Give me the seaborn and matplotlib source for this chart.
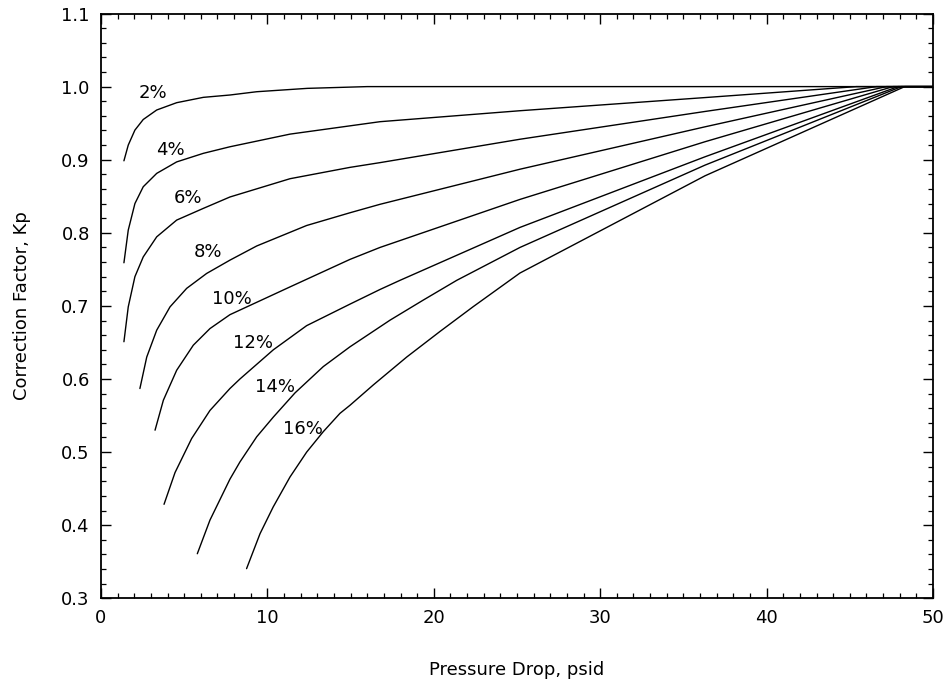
import pandas as pd
import numpy as np
import matplotlib
matplotlib.use("Agg")
import matplotlib.pyplot as plt
from matplotlib.ticker import MultipleLocator, FormatStrFormatter
import seaborn as sns

# ── DATA ──────────────────────────────────────────────────
x_2 = [1.38, 1.64, 2.04, 2.54, 3.35, 4.55, 6.15, 7.75, 9.36, 12.4, 16.0, 50.0]
y_2 = [0.8985, 0.920, 0.9405, 0.955, 0.968, 0.978, 0.9853, 0.9885, 0.993, 0.9976, 1.0, 1.0]

x_4 = [1.38, 1.64, 2.04, 2.54, 3.35, 4.55, 6.15, 7.75, 11.36, 16.77, 25.18, 36.3, 45.4, 50.0]
y_4 = [0.759, 0.8037, 0.840, 0.863, 0.8813, 0.897, 0.9087, 0.9177, 0.935, 0.952, 0.967, 0.985, 1.0, 1.0]

x_6 = [1.38, 1.64, 2.04, 2.54, 3.35, 4.55, 6.15, 7.75, 11.36, 14.96, 16.77, 25.18, 36.3, 46.6, 50.0]
y_6 = [0.651, 0.6987, 0.740, 0.767, 0.7945, 0.8174, 0.8334, 0.849, 0.874, 0.8895, 0.896, 0.928, 0.966, 1.0, 1.0]

x_8 = [2.34, 2.75, 3.35, 4.15, 5.15, 6.35, 7.75, 9.36, 12.36, 14.96, 16.77, 25.18, 36.3, 47.2, 50.0]
y_8 = [0.587, 0.630, 0.6668, 0.6987, 0.724, 0.7444, 0.7626, 0.782, 0.810, 0.8274, 0.839, 0.887, 0.945, 1.0, 1.0]

x_10 = [3.25, 3.75, 4.55, 5.55, 6.55, 7.75, 11.36, 14.96, 16.77, 25.18, 36.3, 47.6, 50.0]
y_10 = [0.530, 0.571, 0.612, 0.6463, 0.669, 0.688, 0.726, 0.7636, 0.780, 0.8457, 0.9246, 1.0, 1.0]

x_12 = [3.79, 4.45, 5.45, 6.55, 7.75, 8.35, 10.36, 12.36, 14.96, 16.77, 17.97, 25.18, 36.3, 47.9, 50.0]
y_12 = [0.4286, 0.472, 0.5186, 0.557, 0.587, 0.600, 0.640, 0.673, 0.7024, 0.7225, 0.735, 0.8074, 0.904, 1.0, 1.0]

x_14 = [5.79, 6.55, 7.75, 8.35, 9.36, 10.36, 11.66, 13.36, 14.96, 17.37, 19.37, 21.38, 25.18, 36.3, 48.1, 50.0]
y_14 = [0.361, 0.407, 0.463, 0.4865, 0.521, 0.548, 0.581, 0.617, 0.644, 0.6805, 0.708, 0.735, 0.780, 0.8926, 1.0, 1.0]

x_16 = [8.75, 9.56, 10.35, 11.36, 12.36, 13.36, 14.36, 14.96, 16.37, 18.37, 20.37, 22.37, 25.18, 36.3, 48.3, 50.0]
y_16 = [0.3406, 0.3885, 0.425, 0.466, 0.500, 0.528, 0.553, 0.564, 0.592, 0.630, 0.665, 0.699, 0.745, 0.878, 1.0, 1.0]

curve_names = ["2%", "4%", "6%", "8%", "10%", "12%", "14%", "16%"]
curve_x = [x_2, x_4, x_6, x_8, x_10, x_12, x_14, x_16]
curve_y = [y_2, y_4, y_6, y_8, y_10, y_12, y_14, y_16]

label_x = [3.14, 4.15, 5.25, 6.45, 7.85, 9.15, 10.46, 12.16]
label_y = [0.991, 0.913, 0.847, 0.774, 0.710, 0.649, 0.589, 0.532]

df = pd.concat(
    [pd.DataFrame({"curve": n, "drop": xs, "kp": ys}) for n, xs, ys in zip(curve_names, curve_x, curve_y)],
    ignore_index=True,
)

# ── STYLE ─────────────────────────────────────────────────
sns.set_theme(style="ticks")
plt.rcParams["font.family"] = ["DejaVu Sans"]
plt.rcParams.update({
    "xtick.direction": "in", "ytick.direction": "in",
    "xtick.top": True, "ytick.right": True,
    "xtick.major.size": 7, "ytick.major.size": 7,
    "xtick.minor.size": 3.5, "ytick.minor.size": 3.5,
    "xtick.major.width": 1.0, "ytick.major.width": 1.0,
    "xtick.minor.width": 0.9, "ytick.minor.width": 0.9,
    "axes.linewidth": 1.3, "axes.edgecolor": "black",
    "axes.labelcolor": "black", "text.color": "black",
    "xtick.color": "black", "ytick.color": "black",
})

fig = plt.figure(figsize=(9.48, 6.82), dpi=100)
ax = fig.add_axes([0.1065, 0.1227, 0.8777, 0.8575])

# ── CURVES ────────────────────────────────────────────────
sns.lineplot(data=df, x="drop", y="kp", hue="curve", palette=["black"] * len(curve_names),
             estimator=None, legend=False, linewidth=1.0, ax=ax)

for name, lx, ly in zip(curve_names, label_x, label_y):
    ax.text(lx, ly, name, fontsize=13, ha="center", va="center")

# ── AXES ──────────────────────────────────────────────────
ax.set_xlim(0, 50)
ax.set_ylim(0.3, 1.1)
ax.xaxis.set_major_locator(MultipleLocator(10))
ax.xaxis.set_minor_locator(MultipleLocator(1))
ax.yaxis.set_major_locator(MultipleLocator(0.1))
ax.yaxis.set_minor_locator(MultipleLocator(0.02))
ax.yaxis.set_major_formatter(FormatStrFormatter("%.1f"))
ax.tick_params(which="both", top=True, right=True, labelsize=13, pad=8)
ax.set_xlabel("Pressure Drop, psid", fontsize=13, labelpad=24)
ax.set_ylabel("Correction Factor, Kp", fontsize=13, labelpad=22)

fig.savefig("out.png", dpi=100)
